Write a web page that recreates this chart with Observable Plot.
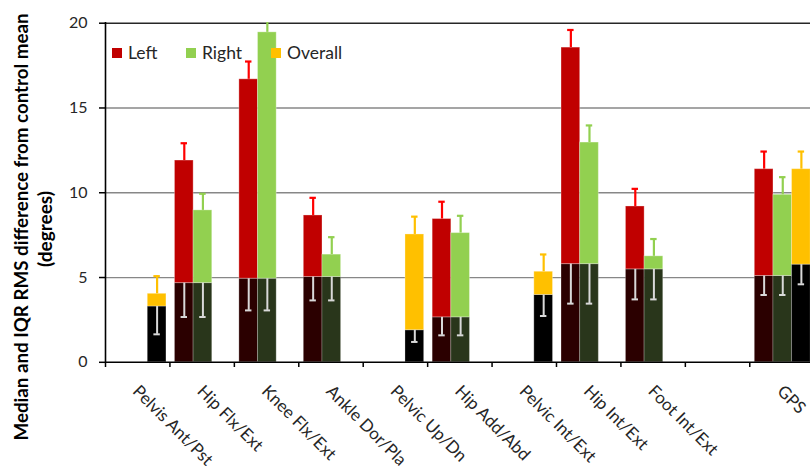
<!DOCTYPE html>
<html>
<head>
<meta charset="utf-8">
<script src="https://cdn.jsdelivr.net/npm/d3@7"></script>
<script src="https://cdn.jsdelivr.net/npm/@observablehq/plot@0.6"></script>
<style>
  body { margin: 0; background: #fff; }
  #chart { position: relative; width: 810px; height: 466px; overflow: hidden; font-family: Lato, "Open Sans", sans-serif; }
  .leg { position: absolute; display: flex; align-items: center; font-size: 17.5px; color: #262626; line-height: 1; }
  .leg i { display: inline-block; width: 10px; height: 10px; margin-right: 6px; }
</style>
</head>
<body>
<div id="chart"></div>
<script>
// ---- data ----
const categories = ["Pelvis Ant/Pst", "Hip Flx/Ext", "Knee Flx/Ext", "Ankle Dor/Pla", "Pelvic Up/Dn",
                    "Hip Add/Abd", "Pelvic Int/Ext", "Hip Int/Ext", "Foot Int/Ext", "", "GPS"];
const seriesNames = ["Left", "Right", "Overall"];
const yTicks = [0, 5, 10, 15, 20];

// median part (dark base of each bar)
const leftMedian    = [null, 4.67, 4.93, 5.03, null, 2.65, null, 5.79, 5.48, null, 5.09];
const rightMedian   = [null, 4.67, 4.93, 5.03, null, 2.65, null, 5.79, 5.48, null, 5.09];
const overallMedian = [3.29, null, null, null, 1.89, null, 3.97, null, null, null, 5.76];
// top of coloured (IQR) part
const leftTop    = [null, 11.90, 16.69, 8.66, null, 8.45, null, 18.56, 9.19, null, 11.39];
const rightTop   = [null, 8.96, 19.46, 6.35, null, 7.62, null, 12.96, 6.25, null, 9.88];
const overallTop = [4.04, null, null, null, 7.54, null, 5.34, null, null, null, 11.39];
// upper error bar end
const leftUpper    = [null, 12.92, 17.74, 9.70, null, 9.47, null, 19.60, 10.23, null, 12.43];
const rightUpper   = [null, 9.94, 20.50, 7.38, null, 8.64, null, 13.97, 7.27, null, 10.92];
const overallUpper = [5.08, null, null, null, 8.59, null, 6.36, null, null, null, 12.43];
// lower error bar end (white bars inside the median part)
const leftLower    = [null, 2.67, 3.06, 3.65, null, 1.59, null, 3.46, 3.71, null, 3.97];
const rightLower   = [null, 2.67, 3.06, 3.65, null, 1.59, null, 3.46, 3.71, null, 3.97];
const overallLower = [1.65, null, null, null, 1.20, null, 2.73, null, null, null, 4.60];

// ---- styling ----
const style = {
  Left:    {off: 0.078, base: "#2B0000", top: "#C00000", err: "#FF0000", median: leftMedian, tops: leftTop, upper: leftUpper, lower: leftLower},
  Right:   {off: 0.367, base: "#29361B", top: "#92D050", err: "#92D050", median: rightMedian, tops: rightTop, upper: rightUpper, lower: rightLower},
  Overall: {off: 0.656, base: "#000000", top: "#FFC000", err: "#FFC000", median: overallMedian, tops: overallTop, upper: overallUpper, lower: overallLower}
};
const barW = 0.29, capW = 0.05;

const marks = [
  Plot.ruleY([5, 10, 15], {stroke: "#878787", strokeWidth: 1.3}),
  Plot.ruleY([20], {stroke: "#262626", strokeWidth: 1.5})
];

for (const s of seriesNames) {
  const st = style[s];
  const rows = categories.map((c, i) => ({i, c, median: st.median[i], top: st.tops[i], upper: st.upper[i], lower: st.lower[i]}))
                         .filter(d => d.median != null);
  const x1 = d => d.i + st.off, x2 = d => d.i + st.off + barW, xc = d => d.i + st.off + barW / 2;
  marks.push(
    Plot.rectY(rows, {x1, x2, y1: 0, y2: "median", fill: st.base, stroke: "#ffffff", strokeOpacity: 0.25, strokeWidth: 1}),
    Plot.rectY(rows, {x1, x2, y1: "median", y2: "top", fill: st.top, stroke: "#ffffff", strokeOpacity: 0.3, strokeWidth: 1}),
    Plot.ruleX(rows, {x: xc, y1: "top", y2: "upper", stroke: st.err, strokeWidth: 2.2, clip: true}),
    Plot.ruleY(rows, {y: "upper", x1: d => xc(d) - capW, x2: d => xc(d) + capW, stroke: st.err, strokeWidth: 2.2, clip: true}),
    Plot.ruleX(rows, {x: xc, y1: "lower", y2: "median", stroke: "#D9D9D9", strokeWidth: 2}),
    Plot.ruleY(rows, {y: "lower", x1: d => xc(d) - capW, x2: d => xc(d) + capW, stroke: "#D9D9D9", strokeWidth: 2})
  );
}

marks.push(
  Plot.ruleX([0], {stroke: "#000", strokeWidth: 1.6}),
  Plot.ruleY([0], {stroke: "#000", strokeWidth: 1.6}),
  Plot.axisY({ticks: yTicks, tickSize: 6, tickPadding: 12, fontSize: 16, label: null, stroke: "#000", strokeWidth: 1.5, color: "#262626"}),
  Plot.axisX({ticks: d3.range(categories.length + 1), tickSize: 5, tickFormat: () => "", label: null, strokeWidth: 1.5}),
  Plot.axisX({ticks: categories.map((c, i) => i + 0.5), tickSize: 0, tickRotate: 45, tickPadding: 10, dy: 16, dx: -2,
              tickFormat: d => categories[Math.floor(d)], fontSize: 17, label: null, color: "#262626"})
);

const plot = Plot.plot({
  width: 810,
  height: 466,
  marginTop: 22,
  marginBottom: 104,
  marginLeft: 105,
  marginRight: 0,
  style: {fontFamily: "Lato, 'Open Sans', sans-serif", background: "#fff", overflow: "visible"},
  x: {type: "linear", domain: [0, categories.length], range: [105, 813.7]},
  y: {domain: [0, 20], range: [361.8, 22.7]},
  marks
});

const chart = document.getElementById("chart");
chart.appendChild(plot);

// y-axis title (two lines, rotated)
const svg = d3.select(plot.tagName.toLowerCase() === "svg" ? plot : plot.querySelector("svg"));
const title = svg.append("g").attr("font-family", "Lato, 'Open Sans', sans-serif").attr("font-weight", "bold")
  .attr("font-size", 18).attr("fill", "#000").attr("text-anchor", "middle");
title.append("text").attr("transform", "translate(22,227) rotate(-90)").attr("dy", "0.35em")
  .attr("textLength", 427).attr("lengthAdjust", "spacingAndGlyphs")
  .text("Median and IQR RMS difference from control mean");
title.append("text").attr("transform", "translate(46,229) rotate(-90)").attr("dy", "0.35em")
  .attr("textLength", 76).attr("lengthAdjust", "spacingAndGlyphs")
  .text("(degrees)");

// legend inside plot area
const legendPos = {Left: 112, Right: 186, Overall: 271};
for (const s of seriesNames) {
  const el = document.createElement("div");
  el.className = "leg";
  el.style.left = legendPos[s] + "px";
  el.style.top = "44px";
  el.style.height = "18px";
  el.innerHTML = `<i style="background:${style[s].top}"></i><span>${s}</span>`;
  chart.appendChild(el);
}
</script>
</body>
</html>
